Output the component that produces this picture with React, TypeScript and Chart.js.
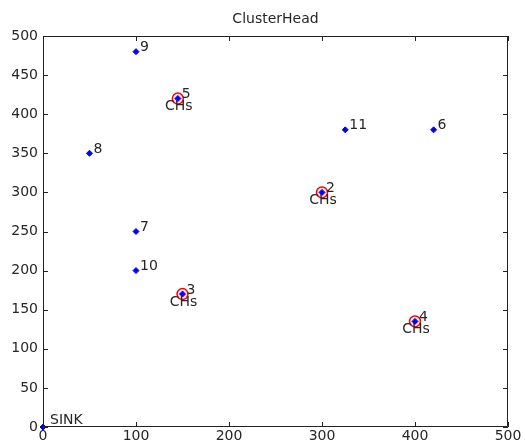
import React, { useEffect, useRef } from "react";
import { Chart, registerables } from "chart.js";

Chart.register(...registerables);

const nodeLabels = ["SINK", "2", "3", "4", "5", "6", "7", "8", "9", "10", "11"];
const nodeX = [0, 300, 150, 400, 145, 420, 100, 50, 100, 100, 325];
const nodeY = [0, 300, 170, 135, 420, 380, 250, 350, 480, 200, 380];
const clusterHeads = ["2", "3", "4", "5"];
const chartTitle = "ClusterHead";
const chLabel = "CHs";
const xTicks = [0, 100, 200, 300, 400, 500];
const yTicks = [0, 50, 100, 150, 200, 250, 300, 350, 400, 450, 500];

const FAMILY = '"DejaVu Sans", Arial, sans-serif';
const FONT = `14px ${FAMILY}`;
const TEXT = "#262626";

const decorPlugin = {
  id: "matlabDecor",
  afterDatasetsDraw(chart: any) {
    const { ctx, chartArea, scales } = chart;
    const { left, right, top, bottom } = chartArea;
    const xs = scales.x;
    const ys = scales.y;
    ctx.save();
    // box
    ctx.strokeStyle = "#222";
    ctx.lineWidth = 1;
    ctx.beginPath();
    ctx.rect(left + 0.5, top + 0.5, right - left - 1, bottom - top - 1);
    ctx.stroke();
    // inward ticks
    const tl = 5;
    ctx.beginPath();
    xTicks.forEach((v) => {
      const px = Math.round(xs.getPixelForValue(v)) + 0.5;
      ctx.moveTo(px, bottom);
      ctx.lineTo(px, bottom - tl);
      ctx.moveTo(px, top);
      ctx.lineTo(px, top + tl);
    });
    yTicks.forEach((v) => {
      const py = Math.round(ys.getPixelForValue(v)) + 0.5;
      ctx.moveTo(left, py);
      ctx.lineTo(left + tl, py);
      ctx.moveTo(right, py);
      ctx.lineTo(right - tl, py);
    });
    ctx.stroke();
    // labels
    ctx.font = FONT;
    ctx.fillStyle = TEXT;
    ctx.textBaseline = "middle";
    nodeLabels.forEach((lab, i) => {
      const px = xs.getPixelForValue(nodeX[i]);
      const py = ys.getPixelForValue(nodeY[i]);
      ctx.textAlign = "left";
      if (lab === "SINK") {
        ctx.fillText(lab, px + 7, py - 7);
      } else {
        ctx.fillText(lab, px + 4, py - 4);
      }
      if (clusterHeads.includes(lab)) {
        ctx.textAlign = "center";
        ctx.fillText(chLabel, px + 1, py + 8);
      }
    });
    // title
    ctx.textAlign = "center";
    ctx.fillText(chartTitle, (left + right) / 2, 19);
    ctx.restore();
  },
};

export default function App() {
  const ref = useRef<HTMLCanvasElement>(null);
  useEffect(() => {
    if (!ref.current) return;
    const blue = nodeX.map((x, i) => ({ x, y: nodeY[i] }));
    const red = nodeLabels
      .map((l, i) => ({ l, x: nodeX[i], y: nodeY[i] }))
      .filter((p) => clusterHeads.includes(p.l))
      .map((p) => ({ x: p.x, y: p.y }));
    const chart = new Chart(ref.current, {
      type: "scatter",
      data: {
        datasets: [
          {
            label: "Nodes",
            data: blue,
            pointStyle: "rectRot",
            pointRadius: 3,
            backgroundColor: "#0000ff",
            borderColor: "#0000ff",
            borderWidth: 1,
            clip: false,
          } as any,
          {
            label: "Cluster heads",
            data: red,
            pointStyle: "circle",
            pointRadius: 5.5,
            backgroundColor: "rgba(255,0,0,0.12)",
            borderColor: "#ff0000",
            borderWidth: 1.5,
            clip: false,
          } as any,
        ],
      },
      options: {
        responsive: false,
        animation: false,
        devicePixelRatio: 1,
        layout: { padding: { top: 36, right: 17, left: 0, bottom: 0 } },
        plugins: { legend: { display: false }, tooltip: { enabled: false }, title: { display: false } },
        scales: {
          x: {
            type: "linear",
            min: 0,
            max: 500,
            ticks: { stepSize: 100, color: TEXT, font: { family: FAMILY, size: 14 }, padding: 1, maxRotation: 0 },
            grid: { display: false, drawTicks: false },
            border: { display: false },
            afterFit: (s: any) => { s.height = 18; },
          },
          y: {
            type: "linear",
            min: 0,
            max: 500,
            ticks: { stepSize: 50, color: TEXT, font: { family: FAMILY, size: 14 }, padding: 5 },
            grid: { display: false, drawTicks: false },
            border: { display: false },
            afterFit: (s: any) => { s.width = 43; },
          },
        },
      },
      plugins: [decorPlugin],
    } as any);
    return () => chart.destroy();
  }, []);
  return (
    <div style={{ position: "absolute", left: 0, top: 0, width: 525, height: 445, background: "#fff" }}>
      <canvas ref={ref} width={525} height={445} style={{ display: "block" }} />
    </div>
  );
}
